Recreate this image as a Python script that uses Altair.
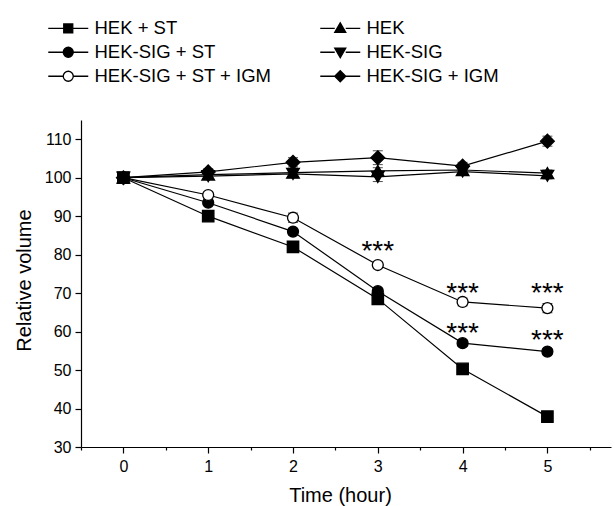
import altair as alt
import pandas as pd

# ---------------- data ----------------
hours = [0, 1, 2, 3, 4, 5]
series_names = ["HEK + ST", "HEK-SIG + ST", "HEK-SIG + ST + IGM",
                "HEK", "HEK-SIG", "HEK-SIG + IGM"]
hek_st = [100, 90.0, 82.0, 68.5, 50.3, 37.9]
hek_sig_st = [100, 93.5, 86.0, 70.5, 57.0, 54.8]
hek_sig_st_igm = [100, 95.5, 89.6, 77.3, 67.7, 66.1]
hek = [100, 100.8, 101.3, 101.8, 102.0, 101.2]
hek_sig = [100, 100.4, 101.0, 100.2, 101.6, 100.5]
hek_sig_igm = [100, 101.5, 104.0, 105.2, 103.0, 109.5]

err_hek_st = [0.6, 0.6, 0.8, 0.8, 0.8, 0.8]
err_hek_sig_st = [0.6, 0.7, 0.8, 0.8, 0.8, 0.8]
err_hek_sig_st_igm = [0.6, 0.8, 1.2, 0.8, 1.0, 1.2]
err_hek = [0.8, 0.8, 0.8, 0.8, 0.8, 0.8]
err_hek_sig = [0.8, 0.8, 0.8, 1.2, 0.8, 0.8]
err_hek_sig_igm = [0.8, 0.8, 1.2, 1.8, 1.0, 1.3]

star_x = [3, 4, 5, 4, 5]
star_y = [82.8, 71.9, 71.9, 61.5, 59.7]

values = [hek_st, hek_sig_st, hek_sig_st_igm, hek, hek_sig, hek_sig_igm]
errors = [err_hek_st, err_hek_sig_st, err_hek_sig_st_igm, err_hek, err_hek_sig, err_hek_sig_igm]

rows = []
for name, vals, errs in zip(series_names, values, errors):
    for h, v, e in zip(hours, vals, errs):
        rows.append({"series": name, "time": h, "value": v,
                     "lo": v - e, "hi": v + e})
df = pd.DataFrame(rows)
stars = pd.DataFrame({"time": star_x, "value": star_y})

# ---------------- styles ----------------
FONT = "Liberation Sans"
marker_style = {
    "HEK + ST": dict(shape="square", fill="black", size=130),
    "HEK": dict(shape="triangle-up", fill="black", size=160),
    "HEK-SIG + ST": dict(shape="circle", fill="black", size=120),
    "HEK-SIG": dict(shape="triangle-down", fill="black", size=160),
    "HEK-SIG + ST + IGM": dict(shape="circle", fill="white", size=120),
    "HEK-SIG + IGM": dict(shape="diamond", fill="black", size=190),
}
legend_paths = {
    "HEK + ST": "M-4,0H-0.9M0.9,0H4M-0.9,-0.9H0.9V0.9H-0.9Z",
    "HEK": "M-4,0H-1.1M1.1,0H4M0,-1.1L1.1,0.8H-1.1Z",
    "HEK-SIG + ST": "M-4,0H-1M1,0H4M1,0A1,1 0 1,1 -1,0A1,1 0 1,1 1,0Z",
    "HEK-SIG": "M-4,0H-1.1M1.1,0H4M0,1.1L1.1,-0.8H-1.1Z",
    "HEK-SIG + ST + IGM": "M-4,0H-1M1,0H4M1,0A1,1 0 1,1 -1,0A1,1 0 1,1 1,0Z",
    "HEK-SIG + IGM": "M-4,0H-1.1M1.1,0H4M-1.1,0L0,-1.1L1.1,0L0,1.1Z",
}

x_ticks = [-0.5 + 0.5 * i for i in range(13)]
y_ticks = [30 + 5 * i for i in range(18)]

x_enc = alt.X(
    "time:Q",
    scale=alt.Scale(domain=[-0.5, 5.75], nice=False, zero=False),
    axis=alt.Axis(
        values=x_ticks,
        labelExpr="datum.value % 1 === 0 ? '' + datum.value : ''",
        tickSize={"condition": {"test": "datum.value % 1 === 0", "value": 6}, "value": 3},
        title="Time (hour)",
        titleX=259, titleY=48, titleBaseline="middle", titleAlign="center",
        labelPadding=5,
    ),
)
y_enc = alt.Y(
    "value:Q",
    scale=alt.Scale(domain=[30, 115], nice=False, zero=False),
    axis=alt.Axis(
        values=y_ticks,
        labelExpr="datum.value % 10 === 0 ? datum.label : ''",
        tickSize={"condition": {"test": "datum.value % 10 === 0", "value": 6}, "value": 3},
        title="Relative volume",
        titleX=-57, titleY=160, titleBaseline="middle", titleAlign="center", titleAngle=-90,
        labelPadding=4,
    ),
)

base = alt.Chart(df)

lines = base.mark_line(color="black", strokeWidth=1.2).encode(
    x=x_enc, y=y_enc, detail="series:N")

err_rule = base.mark_rule(color="black", strokeWidth=1).encode(
    x=x_enc, y=alt.Y("lo:Q"), y2="hi:Q")
err_lo = base.mark_tick(color="black", orient="horizontal", size=10, thickness=1).encode(
    x=x_enc, y=alt.Y("lo:Q"))
err_hi = base.mark_tick(color="black", orient="horizontal", size=10, thickness=1).encode(
    x=x_enc, y=alt.Y("hi:Q"))

point_layers = []
for name in series_names:
    st = marker_style[name]
    point_layers.append(
        base.transform_filter(alt.datum.series == name).mark_point(
            shape=st["shape"], filled=True, fill=st["fill"], stroke="black",
            strokeWidth=1.3, size=st["size"], opacity=1,
        ).encode(x=x_enc, y=y_enc)
    )

star_text = alt.Chart(stars).mark_text(
    text="***", font=FONT, fontSize=28, baseline="alphabetic", dy=16, color="black"
).encode(x=x_enc, y=y_enc)

leg = alt.Legend(title=None, orient="none", legendX=-22, legendY=-101,
                 columns=2, columnPadding=45, rowPadding=5,
                 symbolSize=100, labelOffset=17)

legend_layer = base.transform_filter("datum.time > 99").mark_point(
    filled=True, strokeWidth=1.3, opacity=1
).encode(
    x=x_enc, y=y_enc,
    shape=alt.Shape("series:N", scale=alt.Scale(domain=series_names,
                    range=[legend_paths[s] for s in series_names]), legend=leg),
    fill=alt.Fill("series:N", scale=alt.Scale(domain=series_names,
                  range=[marker_style[s]["fill"] for s in series_names]), legend=leg),
    stroke=alt.Stroke("series:N", scale=alt.Scale(domain=series_names,
                      range=["black"] * len(series_names)), legend=leg),
)

chart = alt.layer(lines, err_rule, err_lo, err_hi, *point_layers, star_text, legend_layer).properties(
    width=530, height=327,
    autosize=alt.AutoSizeParams(type="none"),
    padding={"left": 81, "top": 120, "right": 4, "bottom": 59},
).configure_view(stroke=None).configure_axis(
    domainColor="black", domainWidth=1.2, tickColor="black", tickWidth=1.2,
    labelFont=FONT, labelFontSize=16, labelColor="black",
    titleFont=FONT, titleFontSize=20, titleColor="black", titleFontWeight="normal",
    grid=False,
).configure_legend(
    labelFont=FONT, labelFontSize=18.5, labelColor="black", padding=0,
    symbolStrokeColor="black", symbolStrokeWidth=1.3, symbolOpacity=1,
    labelLimit=400,
)

chart.save("out.html", embed_options={"renderer": "svg", "actions": False})
